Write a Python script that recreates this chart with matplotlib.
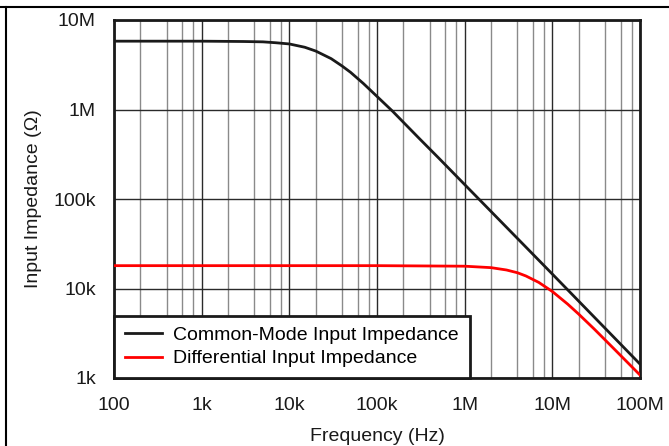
import matplotlib
matplotlib.use('Agg')
import matplotlib.pyplot as plt
from matplotlib.ticker import FixedLocator, NullFormatter, NullLocator
from matplotlib.lines import Line2D

plt.rcParams['font.family'] = ['Liberation Sans', 'DejaVu Sans']

# Common-mode input impedance
freq_cm = [1e2, 1e3, 3e3, 5e3, 7e3, 1e4, 1.5e4, 2e4, 3e4, 4e4, 5e4, 7e4,
           1e5, 1.5e5, 2e5, 3e5, 5e5, 1e6, 1e7, 1e8]
z_cm = [5.8e6, 5.8e6, 5.75e6, 5.7e6, 5.57e6, 5.4e6, 4.96e6, 4.5e6, 3.7e6, 3.06e6,
        2.6e6, 1.95e6, 1.4e6, 9.6e5, 7.2e5, 4.8e5, 2.9e5, 1.45e5, 1.45e4, 1.43e3]

# Differential input impedance
freq_diff = [1e2, 1e5, 1e6, 2e6, 3e6, 4e6, 5e6, 7e6, 1e7, 1.5e7, 2e7, 3e7, 5e7, 1e8]
z_diff = [1.8e4, 1.8e4, 1.775e4, 1.71e4, 1.61e4, 1.5e4, 1.38e4, 1.17e4, 9.26e3,
          6.68e3, 5.17e3, 3.53e3, 2.14e3, 1.08e3]

x_ticks = [1e2, 1e3, 1e4, 1e5, 1e6, 1e7, 1e8]
x_tick_labels = ['100', '1k', '10k', '100k', '1M', '10M', '100M']
y_ticks = [1e3, 1e4, 1e5, 1e6, 1e7]
y_tick_labels = ['1k', '10k', '100k', '1M', '10M']
x_minor_mult = [2, 4, 6, 8]

series_labels = ['Common-Mode Input Impedance', 'Differential Input Impedance']

W, H = 669, 446
fig = plt.figure(figsize=(W / 100, H / 100), dpi=100)
L, R, T, B = 114, 640, 20, 378
ax = fig.add_axes([L / W, 1 - B / H, (R - L) / W, (B - T) / H])
ax.set_xscale('log')
ax.set_yscale('log')
ax.set_xlim(x_ticks[0], x_ticks[-1])
ax.set_ylim(y_ticks[0], y_ticks[-1])

ax.xaxis.set_major_locator(FixedLocator(x_ticks))
ax.set_xticklabels(x_tick_labels)
ax.yaxis.set_major_locator(FixedLocator(y_ticks))
ax.set_yticklabels(y_tick_labels)
minor = [m * d for d in x_ticks[:-1] for m in x_minor_mult]
ax.xaxis.set_minor_locator(FixedLocator(minor))
ax.xaxis.set_minor_formatter(NullFormatter())
ax.yaxis.set_minor_locator(NullLocator())

ax.grid(which='minor', axis='x', color='#8a8a8a', lw=1.0, zorder=0)
ax.grid(which='major', color='#2a2a2a', lw=1.0, zorder=0)
ax.set_axisbelow(True)
ax.tick_params(which='both', length=0, labelsize=14, colors='#1a1a1a')
ax.tick_params(axis='x', pad=13.5)
ax.tick_params(axis='y', pad=13)
for s in ax.spines.values():
    s.set_linewidth(2.0)
    s.set_color('#1a1a1a')

ax.plot(freq_cm, z_cm, color='#1a1a1a', lw=2.0, label=series_labels[0], zorder=3)
ax.plot(freq_diff, z_diff, color='#ff0000', lw=2.0, label=series_labels[1], zorder=3)

leg = ax.legend(loc='lower left', bbox_to_anchor=(0, 0), borderaxespad=0,
                fontsize=14, frameon=True, fancybox=False, framealpha=1,
                handlelength=1.9, handletextpad=0.6, borderpad=0.55,
                labelspacing=0.3)
leg.get_frame().set_edgecolor('#1a1a1a')
leg.get_frame().set_linewidth(2.0)
leg.set_zorder(5)

ax.set_xlabel('Frequency (Hz)', fontsize=14, color='#1a1a1a', labelpad=10)
ax.set_ylabel('Input Impedance (Ω)', fontsize=14, color='#1a1a1a', labelpad=8)

fig.add_artist(Line2D([0, 1], [1 - 7 / H] * 2, transform=fig.transFigure,
                      color='black', lw=1.5))
fig.add_artist(Line2D([6 / W] * 2, [0, 1 - 7 / H], transform=fig.transFigure,
                      color='black', lw=1.5))

fig.savefig('out.png', dpi=100)
